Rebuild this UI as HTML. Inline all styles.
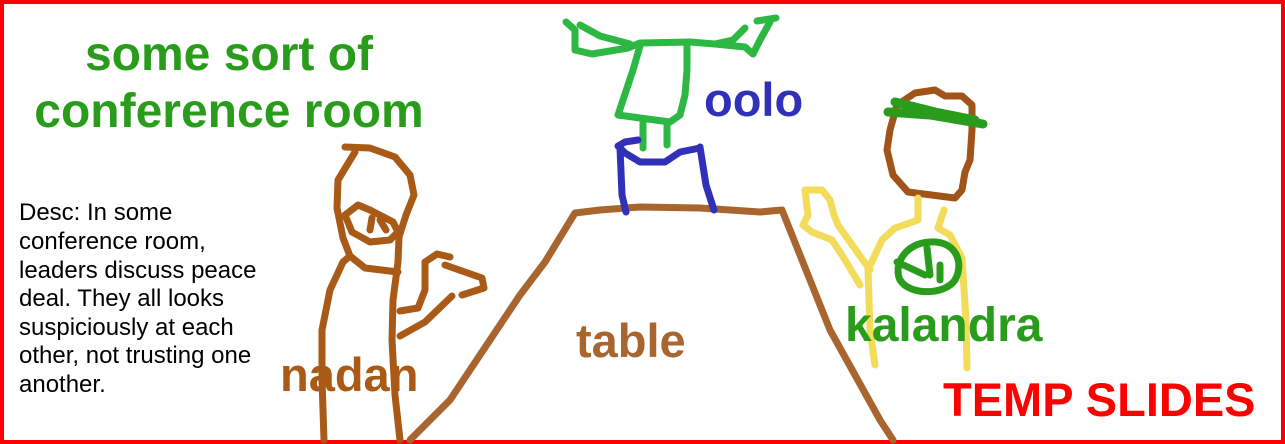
<!DOCTYPE html>
<html><head><meta charset="utf-8"><style>
html,body{margin:0;padding:0;background:#fff}
svg{display:block}
text{font-family:"Liberation Sans",sans-serif}
</style></head><body>
<svg width="1285" height="444" viewBox="0 0 1285 444">
<rect x="2" y="2" width="1281" height="440" fill="#fff" stroke="#ff0000" stroke-width="4"/>
<g fill="none" stroke-linecap="round" stroke-linejoin="round" stroke-width="7">
<path stroke="#a8652e" d="M410,440 L450,400 L490,340 L520,295 L545,262 L575,213 L600,210 L640,207 L700,208 L760,212 L782,210 L790,230 L810,280 L830,330 L855,375 L880,420 L893,440"/>
<g>
<path stroke="#2db843" d="M566,22 L575,30 L575,50 L592,54 L628,48 L640,43 L690,42 L715,44 L745,47 L753,54 L760,40 L770,22 M580,25 L600,36 L630,44 M745,28 L733,40 L715,44 M757,21 L776,18"/>
<path stroke="#2db843" d="M640,46 L633,70 L623,100 L618,115 L640,118 L670,122 L680,115 L685,95 L687,70 L687,44 M643,120 L643,148 M667,122 L667,145"/>
<path stroke="#3030b8" d="M638,140 L625,142 L618,146 L625,153 L640,162 L665,162 L680,152 L700,148 M620,148 L622,195 L626,212 M700,147 L706,185 L714,210"/>
</g>
<g>
<path stroke="#a0541a" d="M945,96 L935,90 L915,93 L897,105 L890,130 L887,150 L893,175 L908,192 L955,198 L962,190 L965,172 L970,160 L972,130 L972,105 L962,96 Z"/>
<path stroke="#2a9c1c" stroke-width="9" d="M888,112 L930,115 L983,124 M895,102 L935,112 L975,120"/>
<path stroke="#f2dc5a" d="M918,198 L918,220 L895,228 L882,240 L868,270 L870,330 L875,365 M944,210 L938,228 L950,235 L962,258 L966,320 L967,368 M860,285 L842,255 L832,240 L812,232 L803,225 L808,215 L805,190 L822,190 L830,200 L834,215 L838,225 L870,270"/>
<path stroke="#2a9c1c" d="M930,242 C955,240 965,262 955,280 C945,295 910,296 900,280 C893,265 905,243 930,242 M897,262 L925,275 M927,248 L930,275 M940,265 L940,280"/>
</g>
<g stroke="#a85a16">
<path d="M345,147 L370,148 L395,157 L410,175 L414,195 L406,215 L399,237 L398,262 L393,300 L392,340 L395,395 L400,440"/>
<path d="M355,152 L338,180 L337,208 L343,238 L350,256 L343,262 L330,290 L322,330 L322,380 L324,440"/>
<path d="M350,256 L365,268 L398,272 M345,215 L358,205 L370,210 L393,222 L398,232 L390,240 L370,242 L352,232 L345,215 M372,218 L370,230 M380,220 L386,230"/>
<path d="M400,311 L418,308 L425,290 L425,262 L437,254 L450,257 M445,265 L482,278 L484,288 L462,295 M400,336 L425,322 L452,296"/>
</g>
</g>
<text x="229" y="70" text-anchor="middle" font-size="48" font-weight="bold" fill="#2a9c1c">some sort of</text>
<text x="229" y="127" text-anchor="middle" font-size="48" font-weight="bold" fill="#2a9c1c">conference room</text>
<g font-size="24" fill="#000">
<text x="19" y="220">Desc: In some</text>
<text x="19" y="249">conference room,</text>
<text x="19" y="278">leaders discuss peace</text>
<text x="19" y="306">deal. They all looks</text>
<text x="19" y="335">suspiciously at each</text>
<text x="19" y="363">other, not trusting one</text>
<text x="19" y="392">another.</text>
</g>
<text x="704" y="116" font-size="47" font-weight="bold" fill="#3030b8">oolo</text>
<text x="576" y="357" font-size="47" font-weight="bold" fill="#a8652e">table</text>
<text x="845" y="341" font-size="48" font-weight="bold" fill="#2a9c1c">kalandra</text>
<text x="280" y="391" font-size="47" font-weight="bold" fill="#a85a16">nadan</text>
<text x="943" y="416" font-size="47" font-weight="bold" fill="#ff0000">TEMP SLIDES</text>
</svg>
</body></html>
